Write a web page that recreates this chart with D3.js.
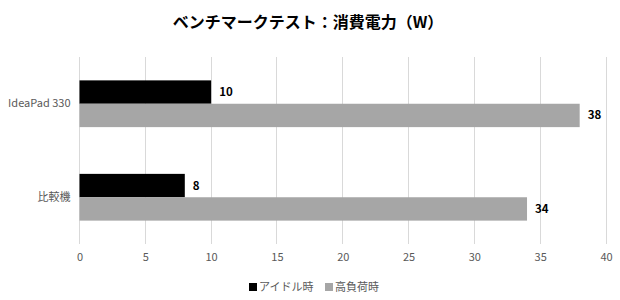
<!DOCTYPE html>
<html><head><meta charset="utf-8">
<script src="https://cdn.jsdelivr.net/npm/d3@7"></script>
<style>body{margin:0;background:#fff;}svg{display:block;font-family:"Noto Sans CJK JP","Noto Sans",sans-serif;}</style>
</head><body><svg id="c" width="620" height="300"></svg>
<script>
const categories = ["IdeaPad 330", "比較機"];
const seriesNames = ["アイドル時", "高負荷時"];
const idleValues = [10, 8];
const loadValues = [38, 34];
const tickValues = [0, 5, 10, 15, 20, 25, 30, 35, 40];
const colors = ["#000000", "#a6a6a6"];
const title = "ベンチマークテスト：消費電力（W）";

const svg = d3.select("#c");
const m = {left: 79.5, right: 606, top: 57, bottom: 244};
const x = d3.scaleLinear().domain([0, 40]).range([m.left, m.right]);
const y = d3.scaleBand().domain(categories).range([m.top, m.bottom]).paddingInner(0.5).paddingOuter(0.25);
const ys = d3.scaleBand().domain(seriesNames).range([0, y.bandwidth()]);

svg.append("text").attr("x", 308).attr("y", 28).attr("text-anchor", "middle")
  .attr("font-size", 16).attr("font-weight", "bold").attr("fill", "#000").text(title);

// grid
svg.append("g").selectAll("line").data(tickValues).join("line")
  .attr("x1", d => x(d)).attr("x2", d => x(d)).attr("y1", m.top).attr("y2", m.bottom)
  .attr("stroke", "#d9d9d9").attr("stroke-width", 1).attr("shape-rendering", "crispEdges");

const xAxis = svg.append("g").attr("transform", `translate(0,${m.bottom})`)
  .call(d3.axisBottom(x).tickValues(tickValues).tickSize(0).tickPadding(9));
xAxis.select(".domain").remove();
xAxis.selectAll("text").attr("font-size", 11).attr("fill", "#595959").attr("font-family", "'Noto Sans CJK JP',sans-serif");

const yAxis = svg.append("g").attr("transform", `translate(${m.left},0)`)
  .call(d3.axisLeft(y).tickSize(0).tickPadding(9));
yAxis.select(".domain").remove();
yAxis.selectAll("text").attr("font-size", 11).attr("fill", "#595959").attr("font-family", "'Noto Sans CJK JP',sans-serif");

const series = [idleValues, loadValues];
series.forEach((vals, si) => {
  const g = svg.append("g");
  g.selectAll("rect").data(categories).join("rect")
    .attr("x", x(0)).attr("y", (c) => y(c) + ys(seriesNames[si]))
    .attr("width", (c, i) => x(vals[i]) - x(0)).attr("height", ys.bandwidth())
    .attr("fill", colors[si]);
  g.selectAll("text").data(categories).join("text")
    .attr("x", (c, i) => x(vals[i]) + 8).attr("y", c => y(c) + ys(seriesNames[si]) + ys.bandwidth() / 2)
    .attr("dy", "0.35em").attr("font-size", 11.5).attr("font-weight", "bold").attr("fill", "#000")
    .text((c, i) => vals[i]);
});

// legend
const leg = svg.append("g").attr("transform", "translate(0,287)");
const legX = [249, 325];
seriesNames.forEach((n, i) => {
  leg.append("rect").attr("x", legX[i]).attr("y", -4).attr("width", 8).attr("height", 8).attr("fill", colors[i]);
  leg.append("text").attr("x", legX[i] + 10).attr("y", 0).attr("dy", "0.35em")
    .attr("font-size", 11).attr("fill", "#595959").text(n);
});
</script></body></html>
